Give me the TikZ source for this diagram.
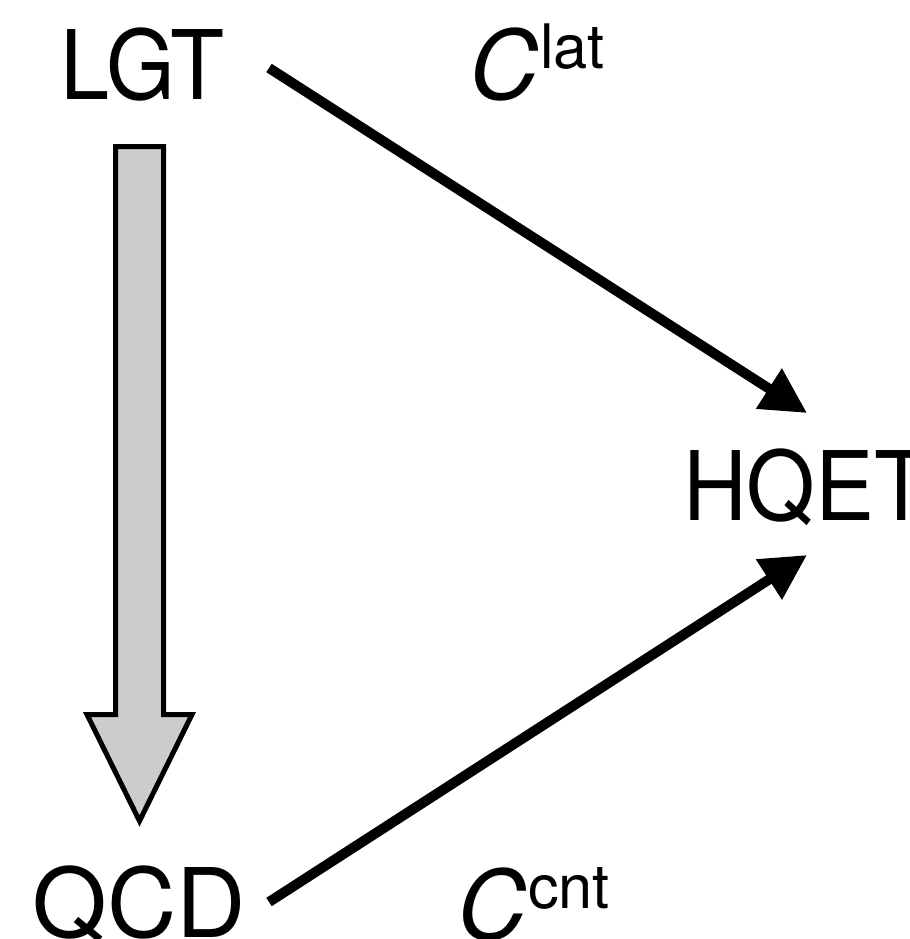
\documentclass[tikz,border=0pt]{standalone}
\usepackage{fontspec}
\setmainfont{TeX Gyre Heros}
\newfontfamily\narrowfont[FakeStretch=0.92]{TeX Gyre Heros}
\usetikzlibrary{arrows.meta}
\definecolor{boxgray}{RGB}{204,204,204}
\tikzset{
  lbl/.style={inner sep=0pt, outer sep=0pt, anchor=base west, font=\fontsize{72}{72}\selectfont},
  narrowlbl/.style={lbl, font=\narrowfont\fontsize{72}{72}\selectfont},
  suplbl/.style={inner sep=0pt, outer sep=0pt, anchor=base west, font=\fontsize{46}{46}\selectfont},
  thickarrow/.style={line width=7.5pt, -{Triangle[length=34pt,width=34pt]}},
  blockarrow/.style={draw=black, fill=boxgray, line width=3.75pt, line join=miter}
}
\begin{document}
\begin{tikzpicture}[x=0.75pt,y=-0.75pt]
\useasboundingbox (0,0) rectangle (910,939);
% labels
\node[narrowlbl, anchor=base] (LGT) at (142.5,99) {LGT};
\node[narrowlbl] (HQET) at (683,520) {HQET};
\node[lbl, anchor=base] (QCD) at (139.5,937) {QCD};
\node[lbl] (Clat) at (469,99) {\itshape C};
\node[suplbl] (Clatsup) at (540,68) {lat};
\node[lbl] (Ccnt) at (457,939) {\itshape C};
\node[suplbl] (Ccntsup) at (528,908) {cnt};
% arrow endpoints
\coordinate (a1s) at (269,68);
\coordinate (a1e) at (807,413);
\coordinate (a2s) at (269,902);
\coordinate (a2e) at (807,555);
\draw[thickarrow] (a1s) -- (a1e);
\draw[thickarrow] (a2s) -- (a2e);
% block arrow LGT -> QCD
\draw[blockarrow] (115.5,146.5) -- (163.5,146.5) -- (163.5,714.5) -- (192,714.5)
  -- (139.5,821) -- (87,714.5) -- (115.5,714.5) -- cycle;
\end{tikzpicture}
\end{document}
